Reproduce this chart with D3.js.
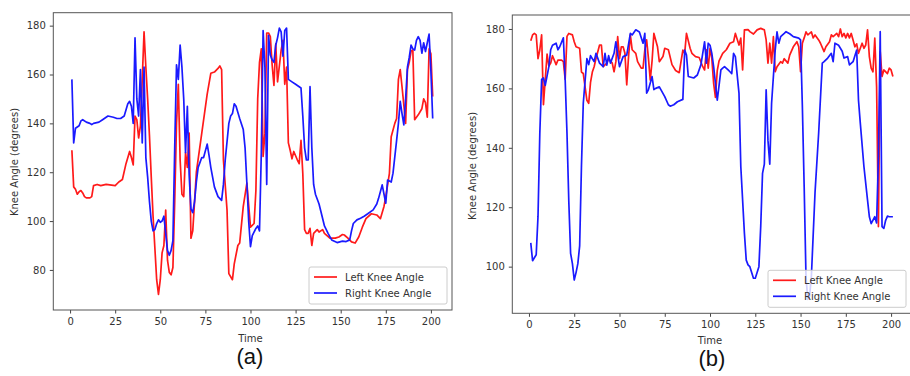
<!DOCTYPE html>
<html><head><meta charset="utf-8">
<script src="https://cdn.jsdelivr.net/npm/d3@7"></script>
<style>body{margin:0;background:#fff}svg{display:block}</style>
</head><body><svg id="c" width="910" height="376"></svg>
<script>
// ---------- DATA ----------
const xTicks = [0, 25, 50, 75, 100, 125, 150, 175, 200];
const yTicksA = [80, 100, 120, 140, 160, 180];
const yTicksB = [100, 120, 140, 160, 180];
const seriesNames = ["Left Knee Angle", "Right Knee Angle"];
const panelLabels = ["(a)", "(b)"];
const xLabel = "Time";
const yLabel = "Knee Angle (degrees)";

// Panel (a) – left knee
const aLeftT = [1,2,3,4,5,6,7,8,9,11,12,13,15,17,20,25,27,29,31,33,34,35,36,37,38,39,40,41,42,43,44,45,46,47,48,49,50,51,52,53,54,55,56,57,58,59,60,61,62,63,64,65,66,67,68,70,73,76,78,80,82,83,84,85,87,88,90,91,93,94,96,98,100,102,103,104,105,106,107,108,109,110,111,112,113,114,115,117,118,119,120,121,122,123,124,126,127,128,129,130,131,132,133,134,135,137,138,140,141,144,147,149,151,152,154,156,158,160,162,164,167,170,172,174,175,177,178,180,181,182,183,184,186,187,188,189,190,191,193,195,196,197,198,199,200,201];
const aLeftV = [129,114,113,111,112,112.5,111.5,110,109.5,109.5,110,114.5,115,114.5,115,114.5,116,117,123.5,128.5,126,123,143,141.5,134,139,158,177.5,163,150,135,118,102,89,76,70,76,87,90,104.5,84,79,78,81,108,140,156,125,111,110,128,122,136,93,96,120,136,152,160.5,161,162.5,163.5,162,125,104.5,78.5,76,82.5,90,91,106,115.5,97.5,99,112.5,150,165,170.5,126.5,136,177,177,175.5,164,155.5,172.5,157,170,174,156,163,132,129,125.5,128.5,125,123.5,133,119.5,96.5,95,95,97,90,95,96.5,95.5,96.5,95,93,93,93.5,94.5,94.3,93,91.5,91,93.5,97.5,101,103,102.5,101,106,110,119.5,134.5,140,142,158,162,155,140,162,165,169.5,170,141.5,143.5,146,150,148.5,142.5,170.5,168.5,151];
// Panel (a) – right knee
const aRightT = [1,2,3,4,5,6,7,9,11,12,13,16,18,21,24,26,28,30,32,33,34,35,36,37,38,39,40,41,42,43,44,45,46,47,48,49,50,51,52,53,54,55,56,57,58,59,60,61,62,63,64,65,66,67,68,69,70,71,73,74,76,77,78,80,82,84,85,86,88,89,90,91,92,94,96,97,98,99,100,101,103,104,105,106,107,108,109,110,111,112,113,114,115,116,117,118,119,120,121,123,125,127,128,129,130,131,132,133,134,135,136,138,139,141,143,145,148,151,153,155,156,157,159,161,163,165,168,170,171,173,175,176,178,179,181,182,183,184,185,186,187,188,189,190,191,192,193,194,195,196,197,198,199,200,201];
const aRightV = [158,132,138,138.5,139,141,141.5,140.5,140,139.5,140,140.5,141.5,143,142.5,142,142,143,148,149,147,140,175,150,143,162,132,163,126,118,108,100,96,96.5,99,100.5,99.5,100,102,95,88,86,88,92,130,164,158,172,163,150,128,147,119,105,103.5,108,116,122,126,126,131.5,127,122,114,110,108.5,115,125,140,143,144,148,147,142,137.5,130,115.5,100,89.5,94,97,98,96,128,178,163,115,176,168,166,165,172,175,179,177.5,167.5,178,179,158,157,156,155,154.5,143,130,125,125,155,130,115,111,107,104,98,95,92.3,91.2,91.8,91.6,92.3,96,99,100.5,101.2,102,103,104.6,107,109.3,114.8,107.3,116.8,116,119.6,133,140,149,144,139.4,150,163,167,172,170.5,170,174,175.5,174,168.7,173,169.4,173,176.5,161.5,142];

// Panel (b) – left knee
const bLeftT = [1,2,3,4,5,6,7,8,9,10,11,12,13,15,16,18,19,20,21,22,24,25,26,28,29,30,31,32,33,34,35,36,37,39,40,41,43,44,46,47,48,49,50,51,52,53,54,55,56,57,59,60,62,63,64,65,66,67,68,69,71,72,74,75,77,79,81,83,85,86,87,89,90,92,94,96,97,98,99,100,101,102,103,104,105,107,109,111,113,114,116,117,118,119,121,122,124,126,128,130,131,132,133,134,135,136,137,139,140,141,143,144,146,148,149,150,151,152,153,154,156,157,158,160,161,163,164,166,167,168,170,171,172,173,174,175,176,177,178,179,180,181,182,184,185,186,187,188,189,190,191,192,193,194,195,196,198,199,200,201];
const bLeftV = [176,178,178.5,178,170,173,178,154.5,163,171.5,167.5,168.5,171,168,169.5,169.5,169,163,177.5,178.5,178,175.7,174,173.5,165.5,165,160.5,156,155,162,165.5,167.3,170,174.6,174.6,167.3,168.5,170,168.5,165.6,169,177.4,170,174,174,171.8,161.2,170.7,178,173,171.8,169,166.8,166.8,173,176.3,170,162.8,169.3,178.5,174,169,170.7,173.5,173,168,166,165.3,172.9,171.8,178.5,173.5,171.8,170.7,170.4,167.3,166.2,173,166.8,173.5,170,161.7,157,166,169.3,171.8,173,175.2,175.7,178.5,174.6,176.9,166.2,179.7,179.8,179.1,178.3,179.7,180.2,179.7,176.3,168.5,175.2,168.5,177.4,165.6,167.3,169,168.5,170,168.5,171.2,174,175.7,174,165.6,175.2,177,179,178,179,177,178,176.3,175.2,172.4,174,175.7,178,177.4,178.5,177.4,180,177.4,178.5,177,178.5,177,178.5,176.3,174,175,171.8,175.2,173.5,174.6,179.7,170.7,166.8,165.6,176.9,160.6,113.5,172.4,164,166.2,165,166.8,166.2,164];
// Panel (b) – right knee
const bRightT = [1,2,3,4,5,6,7,8,9,11,12,13,15,16,17,19,20,21,22,23,24,25,26,27,28,29,30,32,33,34,36,37,39,41,42,43,44,45,47,48,50,52,54,56,57,59,61,63,64,65,66,68,69,70,72,75,77,78,80,82,85,86,87,88,91,93,95,97,98,99,100,101,102,104,105,106,107,108,110,111,112,113,114,116,117,119,120,121,122,124,125,127,128,129,130,131,132,133,134,135,136,137,138,139,141,142,144,146,149,150,151,152,153,154,155,156,158,160,162,163,165,167,168,169,171,173,174,176,177,179,181,182,183,185,187,188,189,191,192,193,194,195,196,197,198,199,201];
const bRightV = [108,102,103,104,117,145,163,163.5,161,167.3,173,174.5,175.2,173,174,177,163,145,122,104.5,101,95.5,98,101,107,134,155,170,168,171,169,171.8,168.5,167.3,171.8,167.8,171,168.5,171.8,175.7,167.3,170.7,171.2,178.5,178,179.7,179,175.2,178.5,158.4,159.6,164,159.6,160,160.5,157.2,154.5,154,154.5,155.5,156.3,172.9,171.2,164,163.5,164.5,168,175.7,168.5,175.2,174.5,171.8,167.3,156,161,166.2,166.8,167.3,166.2,165.6,165,171.8,170.7,158.4,133.7,111.2,102.2,100.6,100,96.1,96.1,100,113.5,131.4,134.5,159.5,142.5,134.5,155,164,172.9,179,175.2,177.4,178.5,179.1,178.4,177.4,176.9,176.3,154,127,96.6,89,90,97,125,145,168.5,169,170.2,171.8,169,175.2,174.5,172.5,170.2,170.7,167.9,169,172.9,156,148.3,133.7,122.4,116.8,114.5,116.8,114.7,137,179.1,113.5,112.9,115.6,117,116.8,116.8];

// ---------- LAYOUT ----------
const panels = [
  { left: [aLeftT, aLeftV], right: [aRightT, aRightV], yTicks: yTicksA,
    xDom: [-9.3, 211.7], xRange: [53.3, 452], yDom: [63.6, 185.3], yRange: [310, 12.7],
    yLabX: 14, yLabY: 162, xLabY: 341.5, tagX: 250, tagY: 364 },
  { left: [bLeftT, bLeftV], right: [bRightT, bRightV], yTicks: yTicksB,
    xDom: [-9.2, 211], xRange: [512.3, 911], yDom: [84.3, 184.7], yRange: [313.3, 15],
    yLabX: 472, yLabY: 166, xLabY: 344, tagX: 712, tagY: 366 }
];
const colors = ["#ff1a1a", "#1a1aff"];
const svg = d3.select("#c");
const font = "DejaVu Sans, Verdana, sans-serif";

panels.forEach((p, i) => {
  const x = d3.scaleLinear().domain(p.xDom).range(p.xRange);
  const y = d3.scaleLinear().domain(p.yDom).range(p.yRange);
  const g = svg.append("g");
  const clipId = "clip" + i;
  svg.append("clipPath").attr("id", clipId).append("rect")
    .attr("x", p.xRange[0]).attr("y", p.yRange[1])
    .attr("width", p.xRange[1] - p.xRange[0]).attr("height", p.yRange[0] - p.yRange[1]);

  // axes
  const xa = g.append("g").attr("transform", `translate(0,${p.yRange[0]})`)
    .call(d3.axisBottom(x).tickValues(xTicks).tickSize(3.5).tickPadding(4).tickFormat(d3.format("d")));
  const ya = g.append("g").attr("transform", `translate(${p.xRange[0]},0)`)
    .call(d3.axisLeft(y).tickValues(p.yTicks).tickSize(3.5).tickPadding(4).tickFormat(d3.format("d")));
  [xa, ya].forEach(a => {
    a.select(".domain").remove();
    a.selectAll("line").attr("stroke", "#444");
    a.selectAll("text").attr("font-family", font).attr("font-size", 10).attr("fill", "#333");
  });

  // lines
  const lineGen = d3.line().x(d => x(d[0])).y(d => y(d[1]));
  const plot = g.append("g").attr("clip-path", `url(#${clipId})`);
  [p.left, p.right].forEach((s, k) => {
    const pts = s[0].map((t, j) => [t, s[1][j]]);
    plot.append("path").datum(pts).attr("d", lineGen)
      .attr("fill", "none").attr("stroke", colors[k]).attr("stroke-width", 1.7)
      .attr("stroke-linejoin", "round");
  });

  // frame
  g.append("rect").attr("x", p.xRange[0]).attr("y", p.yRange[1])
    .attr("width", p.xRange[1] - p.xRange[0]).attr("height", p.yRange[0] - p.yRange[1])
    .attr("fill", "none").attr("stroke", "#555").attr("stroke-width", 1);

  // legend
  const lw = 138, lh = 37;
  const lx = p.xRange[1] - 5 - lw, ly = p.yRange[0] - 6 - lh;
  const lg = g.append("g");
  lg.append("rect").attr("x", lx).attr("y", ly).attr("width", lw).attr("height", lh)
    .attr("rx", 2).attr("fill", "#fff").attr("fill-opacity", 0.8).attr("stroke", "#ccc");
  seriesNames.forEach((n, k) => {
    const yy = ly + 10 + k * 16;
    lg.append("line").attr("x1", lx + 5).attr("x2", lx + 28).attr("y1", yy).attr("y2", yy)
      .attr("stroke", colors[k]).attr("stroke-width", 1.7);
    lg.append("text").attr("x", lx + 36).attr("y", yy + 3.5).text(n)
      .attr("font-family", font).attr("font-size", 10).attr("fill", "#333");
  });

  // labels
  const xc = (x(0) + x(200)) / 2;
  g.append("text").attr("x", xc).attr("y", p.xLabY).attr("text-anchor", "middle")
    .attr("font-family", font).attr("font-size", 10).attr("fill", "#333").text(xLabel);
  g.append("text").attr("transform", `translate(${p.yLabX},${p.yLabY}) rotate(-90)`)
    .attr("text-anchor", "middle").attr("dominant-baseline", "central")
    .attr("font-family", font).attr("font-size", 10).attr("fill", "#333").text(yLabel);
  g.append("text").attr("x", p.tagX).attr("y", p.tagY).attr("text-anchor", "middle")
    .attr("font-family", "Liberation Sans, Arial, sans-serif").attr("font-size", 22).attr("fill", "#111")
    .text(panelLabels[i]);
});
</script></body></html>
